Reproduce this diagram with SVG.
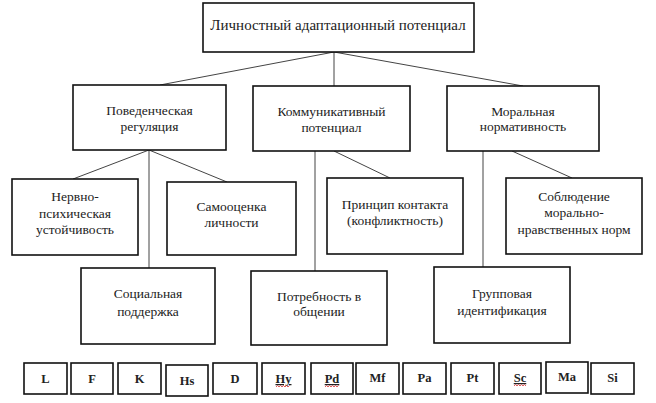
<svg xmlns="http://www.w3.org/2000/svg" width="656" height="403" viewBox="0 0 656 403">
<style>
.box{fill:#fff;stroke:#111;stroke-width:1.6}
.t{font-family:'Liberation Serif','DejaVu Serif',serif;font-size:13.5px;fill:#222;text-anchor:middle}
.top{font-size:15px}
.b{font-family:'Liberation Serif','DejaVu Serif',serif;font-size:12.5px;font-weight:bold;fill:#222;text-anchor:middle}
.u{text-decoration:underline}
.ln{stroke:#444;stroke-width:1;fill:none}
.sq{stroke:#d33;stroke-width:0.8;fill:none}
</style>
<g id="connectors">
<line class="ln" x1="334" y1="52" x2="160" y2="85"/>
<line class="ln" x1="334" y1="52" x2="334" y2="86"/>
<line class="ln" x1="334" y1="52" x2="523" y2="86"/>
<line class="ln" x1="149" y1="150" x2="73" y2="179"/>
<line class="ln" x1="149" y1="150" x2="149" y2="268"/>
<line class="ln" x1="149" y1="150" x2="227" y2="182"/>
<line class="ln" x1="315" y1="151" x2="315" y2="271"/>
<line class="ln" x1="334" y1="151" x2="390" y2="178"/>
<line class="ln" x1="483" y1="151" x2="483" y2="267"/>
<line class="ln" x1="512" y1="151" x2="572" y2="178"/>
</g>
<g id="n_root"><rect class="box" x="203" y="3" width="271" height="49"/><text class="t top" x="338" y="30">Личностный адаптационный потенциал</text></g>
<g id="n_beh"><rect class="box" x="73" y="85" width="153" height="65"/><text class="t" x="149.5" y="115">Поведенческая</text><text class="t" x="149.5" y="131">регуляция</text></g>
<g id="n_comm"><rect class="box" x="253" y="86" width="157" height="65"/><text class="t" x="331.5" y="116">Коммуникативный</text><text class="t" x="331.5" y="132">потенциал</text></g>
<g id="n_moral"><rect class="box" x="447" y="86" width="152" height="65"/><text class="t" x="523" y="116">Моральная</text><text class="t" x="523" y="131">нормативность</text></g>
<g id="n_nerv"><rect class="box" x="12" y="179" width="126" height="76"/><text class="t" x="75" y="201">Нервно-</text><text class="t" x="75" y="218">психическая</text><text class="t" x="75" y="234">устойчивость</text></g>
<g id="n_self"><rect class="box" x="167" y="182" width="129" height="73"/><text class="t" x="231.5" y="211">Самооценка</text><text class="t" x="231.5" y="227">личности</text></g>
<g id="n_contact"><rect class="box" x="327" y="178" width="136" height="76"/><text class="t" x="395" y="209">Принцип контакта</text><text class="t" x="395" y="225">(конфликтность)</text></g>
<g id="n_norms"><rect class="box" x="506" y="178" width="136" height="76"/><text class="t" x="574" y="201">Соблюдение</text><text class="t" x="574" y="217">морально-</text><text class="t" x="574" y="234">нравственных норм</text></g>
<g id="n_social"><rect class="box" x="81" y="268" width="134" height="76"/><text class="t" x="148" y="298">Социальная</text><text class="t" x="148" y="316">поддержка</text></g>
<g id="n_need"><rect class="box" x="251" y="271" width="136" height="74"/><text class="t" x="319" y="301">Потребность в</text><text class="t" x="319" y="316">общении</text></g>
<g id="n_group"><rect class="box" x="434" y="267" width="136" height="76"/><text class="t" x="502" y="298">Групповая</text><text class="t" x="502" y="315">идентификация</text></g>
<g id="scales">
<g id="s_L"><rect class="box" x="24" y="363" width="43" height="31"/><text class="b" x="45.5" y="383">L</text></g>
<g id="s_F"><rect class="box" x="71" y="363" width="42" height="31"/><text class="b" x="92" y="383">F</text></g>
<g id="s_K"><rect class="box" x="118" y="363" width="43" height="31"/><text class="b" x="139.5" y="383">K</text></g>
<g id="s_Hs"><rect class="box" x="166" y="365" width="42" height="31"/><text class="b" x="187" y="385">Hs</text></g>
<g id="s_D"><rect class="box" x="213" y="363" width="44" height="31"/><text class="b" x="235" y="383">D</text></g>
<g id="s_Hy"><rect class="box" x="262" y="363" width="43" height="31"/><text class="b u" x="283.5" y="383">Hy</text><path class="sq" d="M276 387 l1.5 -1.5 l1.5 1.5 l1.5 -1.5 l1.5 1.5 l1.5 -1.5 l1.5 1.5 l1.5 -1.5 l1.5 1.5 l1.5 -1.5"/></g>
<g id="s_Pd"><rect class="box" x="311" y="363" width="42" height="31"/><text class="b u" x="332" y="383">Pd</text><path class="sq" d="M325 387 l1.5 -1.5 l1.5 1.5 l1.5 -1.5 l1.5 1.5 l1.5 -1.5 l1.5 1.5 l1.5 -1.5 l1.5 1.5 l1.5 -1.5"/></g>
<g id="s_Mf"><rect class="box" x="356" y="363" width="43" height="31"/><text class="b" x="377.5" y="382">Mf</text></g>
<g id="s_Pa"><rect class="box" x="403" y="363" width="43" height="31"/><text class="b" x="424.5" y="382">Pa</text></g>
<g id="s_Pt"><rect class="box" x="451" y="363" width="43" height="31"/><text class="b" x="472.5" y="382">Pt</text></g>
<g id="s_Sc"><rect class="box" x="499" y="363" width="42" height="31"/><text class="b u" x="520" y="382">Sc</text><path class="sq" d="M514 386 l1.5 -1.5 l1.5 1.5 l1.5 -1.5 l1.5 1.5 l1.5 -1.5 l1.5 1.5 l1.5 -1.5 l1.5 1.5"/></g>
<g id="s_Ma"><rect class="box" x="546" y="362" width="42" height="31"/><text class="b" x="567" y="381">Ma</text></g>
<g id="s_Si"><rect class="box" x="591" y="363" width="43" height="31"/><text class="b" x="612.5" y="382">Si</text></g>
</g>
</svg>
